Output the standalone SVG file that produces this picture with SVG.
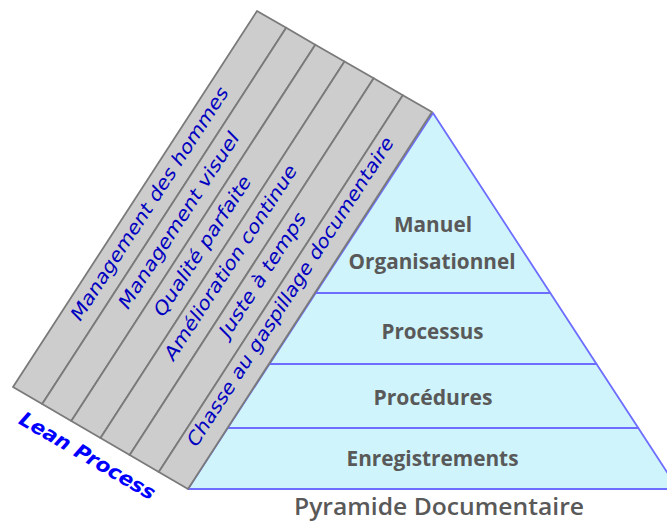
<svg xmlns="http://www.w3.org/2000/svg" width="667" height="522" viewBox="0 0 667 522">
<style>
.layer{fill:#cff4fb;stroke:#6d6dff;stroke-width:1.8;stroke-linejoin:round}
.strip{fill:#cdcdcd;stroke:#7a7a7a;stroke-width:1.8;stroke-linejoin:round}
.lbl{font-family:"Open Sans","Liberation Sans",sans-serif;font-weight:bold;font-size:21px;fill:#595959;text-anchor:middle}
.st{font-family:"DejaVu Sans",sans-serif;font-style:italic;font-size:18.5px;fill:#0000c0}
.title{font-family:"Open Sans","Liberation Sans",sans-serif;font-weight:600;font-size:24px;fill:#595959;text-anchor:middle}
.lean{font-family:"DejaVu Sans",sans-serif;font-style:italic;font-weight:bold;font-size:20px;fill:#0000ff}
</style>
<rect width="667" height="522" fill="#ffffff"/>
<g id="pyramid">
<g id="layer-manuel">
<polygon class="layer" points="433,113 550.3,293 315.7,293"/>
<text class="lbl" x="433" y="231.5" textLength="78" lengthAdjust="spacingAndGlyphs">Manuel</text>
<text class="lbl" x="432" y="268.5" textLength="167" lengthAdjust="spacingAndGlyphs">Organisationnel</text>
</g>
<g id="layer-processus">
<polygon class="layer" points="315.7,293 550.3,293 596.5,364 269.5,364"/>
<text class="lbl" x="432.5" y="339" textLength="102" lengthAdjust="spacingAndGlyphs">Processus</text>
</g>
<g id="layer-procedures">
<polygon class="layer" points="269.5,364 596.5,364 638.3,428 227.7,428"/>
<text class="lbl" x="433" y="405" textLength="119" lengthAdjust="spacingAndGlyphs">Procédures</text>
</g>
<g id="layer-enregistrements">
<polygon class="layer" points="227.7,428 638.3,428 678,489 188,489"/>
<text class="lbl" x="432.5" y="465.5" textLength="172" lengthAdjust="spacingAndGlyphs">Enregistrements</text>
</g>
</g>
<g id="lean-band">
<g id="strip-1">
<polygon class="strip" points="257,11 286.2,27.8 42.2,404 13,387"/>
<text class="st" transform="translate(13 387) rotate(-57.02)" x="91" y="21" textLength="274" lengthAdjust="spacingAndGlyphs">Management des hommes</text>
</g>
<g id="strip-2">
<polygon class="strip" points="286.2,27.8 315.3,44.7 71.3,421 42.2,404"/>
<text class="st" transform="translate(13 387) rotate(-57.02)" x="127" y="54.7" textLength="206" lengthAdjust="spacingAndGlyphs">Management visuel</text>
</g>
<g id="strip-3">
<polygon class="strip" points="315.3,44.7 344.5,61.5 100.5,438 71.3,421"/>
<text class="st" transform="translate(13 387) rotate(-57.02)" x="140" y="88.4" textLength="163" lengthAdjust="spacingAndGlyphs">Qualité parfaite</text>
</g>
<g id="strip-4">
<polygon class="strip" points="344.5,61.5 373.7,78.3 129.7,455 100.5,438"/>
<text class="st" transform="translate(13 387) rotate(-57.02)" x="109" y="121" textLength="228" lengthAdjust="spacingAndGlyphs">Amélioration continue</text>
</g>
<g id="strip-5">
<polygon class="strip" points="373.7,78.3 402.8,95.2 158.8,472 129.7,455"/>
<text class="st" transform="translate(13 387) rotate(-57.02)" x="158" y="154.5" textLength="144" lengthAdjust="spacingAndGlyphs">Juste à temps</text>
</g>
<g id="strip-6">
<polygon class="strip" points="402.8,95.2 432,112 188,489 158.8,472"/>
<text class="st" transform="translate(13 387) rotate(-57.02)" x="49" y="187" textLength="364" lengthAdjust="spacingAndGlyphs">Chasse au gaspillage documentaire</text>
</g>
</g>
<g id="title-lean">
<text class="lean" transform="translate(17.5 423) rotate(30.24)" x="0" y="0" textLength="154" lengthAdjust="spacingAndGlyphs">Lean Process</text>
</g>
<g id="title-pyramide">
<text class="title" x="439" y="515" textLength="290" lengthAdjust="spacingAndGlyphs">Pyramide Documentaire</text>
</g>
</svg>
